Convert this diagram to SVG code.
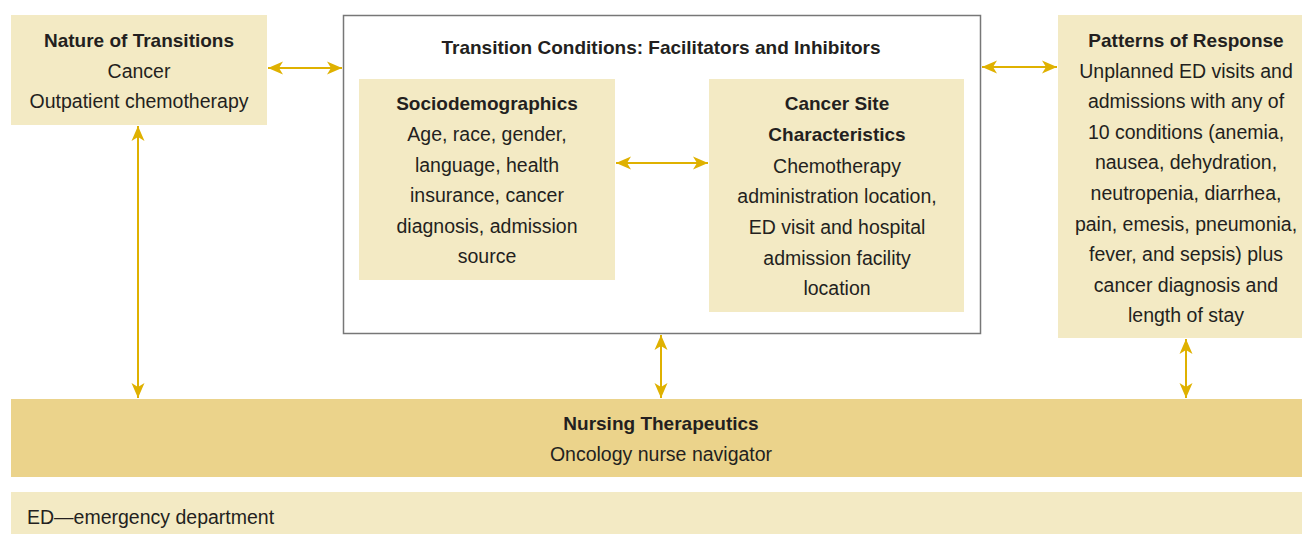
<svg xmlns="http://www.w3.org/2000/svg" width="1302" height="534" viewBox="0 0 1302 534">
<style>
.box{fill:#f3eac4}
.band{fill:#ebd38b}
.frame{fill:#ffffff;stroke:#777777;stroke-width:1.5}
text{font-family:"Liberation Sans",Arial,sans-serif;font-size:19.5px;fill:#231f20;text-anchor:middle}
.b{font-weight:bold;font-size:19px}
.l{text-anchor:start}
.conn line{stroke:#dfb100;stroke-width:2;marker-start:url(#ah);marker-end:url(#ah)}
</style>
<defs>
<marker id="ah" markerUnits="userSpaceOnUse" markerWidth="20" markerHeight="16" viewBox="-1 -8 18 16" refX="15" refY="0" orient="auto-start-reverse">
<path d="M0,-6.5 L15,0 L0,6.5 L4,0 Z" fill="#dfb100"/>
</marker>
</defs>
<rect width="1302" height="534" fill="#ffffff"/>

<g id="nature">
<rect class="box" x="11" y="15" width="256" height="110"/>
<text class="b" x="139" y="47">Nature of Transitions</text>
<text x="139" y="78">Cancer</text>
<text x="139" y="108">Outpatient chemotherapy</text>
</g>

<g id="conditions">
<rect class="frame" x="343.5" y="15.5" width="637" height="318"/>
<text class="b" x="661" y="54">Transition Conditions: Facilitators and Inhibitors</text>
</g>

<g id="sociodemographics">
<rect class="box" x="359" y="79" width="256" height="201"/>
<text class="b" x="487" y="110">Sociodemographics</text>
<text x="487" y="141">Age, race, gender,</text>
<text x="487" y="172">language, health</text>
<text x="487" y="202">insurance, cancer</text>
<text x="487" y="233">diagnosis, admission</text>
<text x="487" y="263">source</text>
</g>

<g id="cancersite">
<rect class="box" x="709" y="79" width="255" height="233"/>
<text class="b" x="837" y="110">Cancer Site</text>
<text class="b" x="837" y="141">Characteristics</text>
<text x="837" y="173">Chemotherapy</text>
<text x="837" y="203">administration location,</text>
<text x="837" y="234">ED visit and hospital</text>
<text x="837" y="265">admission facility</text>
<text x="837" y="295">location</text>
</g>

<g id="patterns">
<rect class="box" x="1058" y="15" width="244" height="323"/>
<text class="b" x="1186" y="47">Patterns of Response</text>
<text x="1186" y="78">Unplanned ED visits and</text>
<text x="1186" y="108">admissions with any of</text>
<text x="1186" y="139">10 conditions (anemia,</text>
<text x="1186" y="169">nausea, dehydration,</text>
<text x="1186" y="200">neutropenia, diarrhea,</text>
<text x="1186" y="231">pain, emesis, pneumonia,</text>
<text x="1186" y="261">fever, and sepsis) plus</text>
<text x="1186" y="292">cancer diagnosis and</text>
<text x="1186" y="322">length of stay</text>
</g>

<g id="nursing">
<rect class="band" x="11" y="399" width="1291" height="78"/>
<text class="b" x="661" y="430">Nursing Therapeutics</text>
<text x="661" y="461">Oncology nurse navigator</text>
</g>

<g id="legend">
<rect class="box" x="11" y="492" width="1291" height="42"/>
<text class="l" x="27" y="524">ED—emergency department</text>
</g>

<g class="conn" id="connectors">
<line x1="268" y1="68" x2="342" y2="68"/>
<line x1="982" y1="67" x2="1057" y2="67"/>
<line x1="616" y1="163" x2="708" y2="163"/>
<line x1="138" y1="126" x2="138" y2="398"/>
<line x1="661" y1="335" x2="661" y2="398"/>
<line x1="1186" y1="339" x2="1186" y2="398"/>
</g>
</svg>
